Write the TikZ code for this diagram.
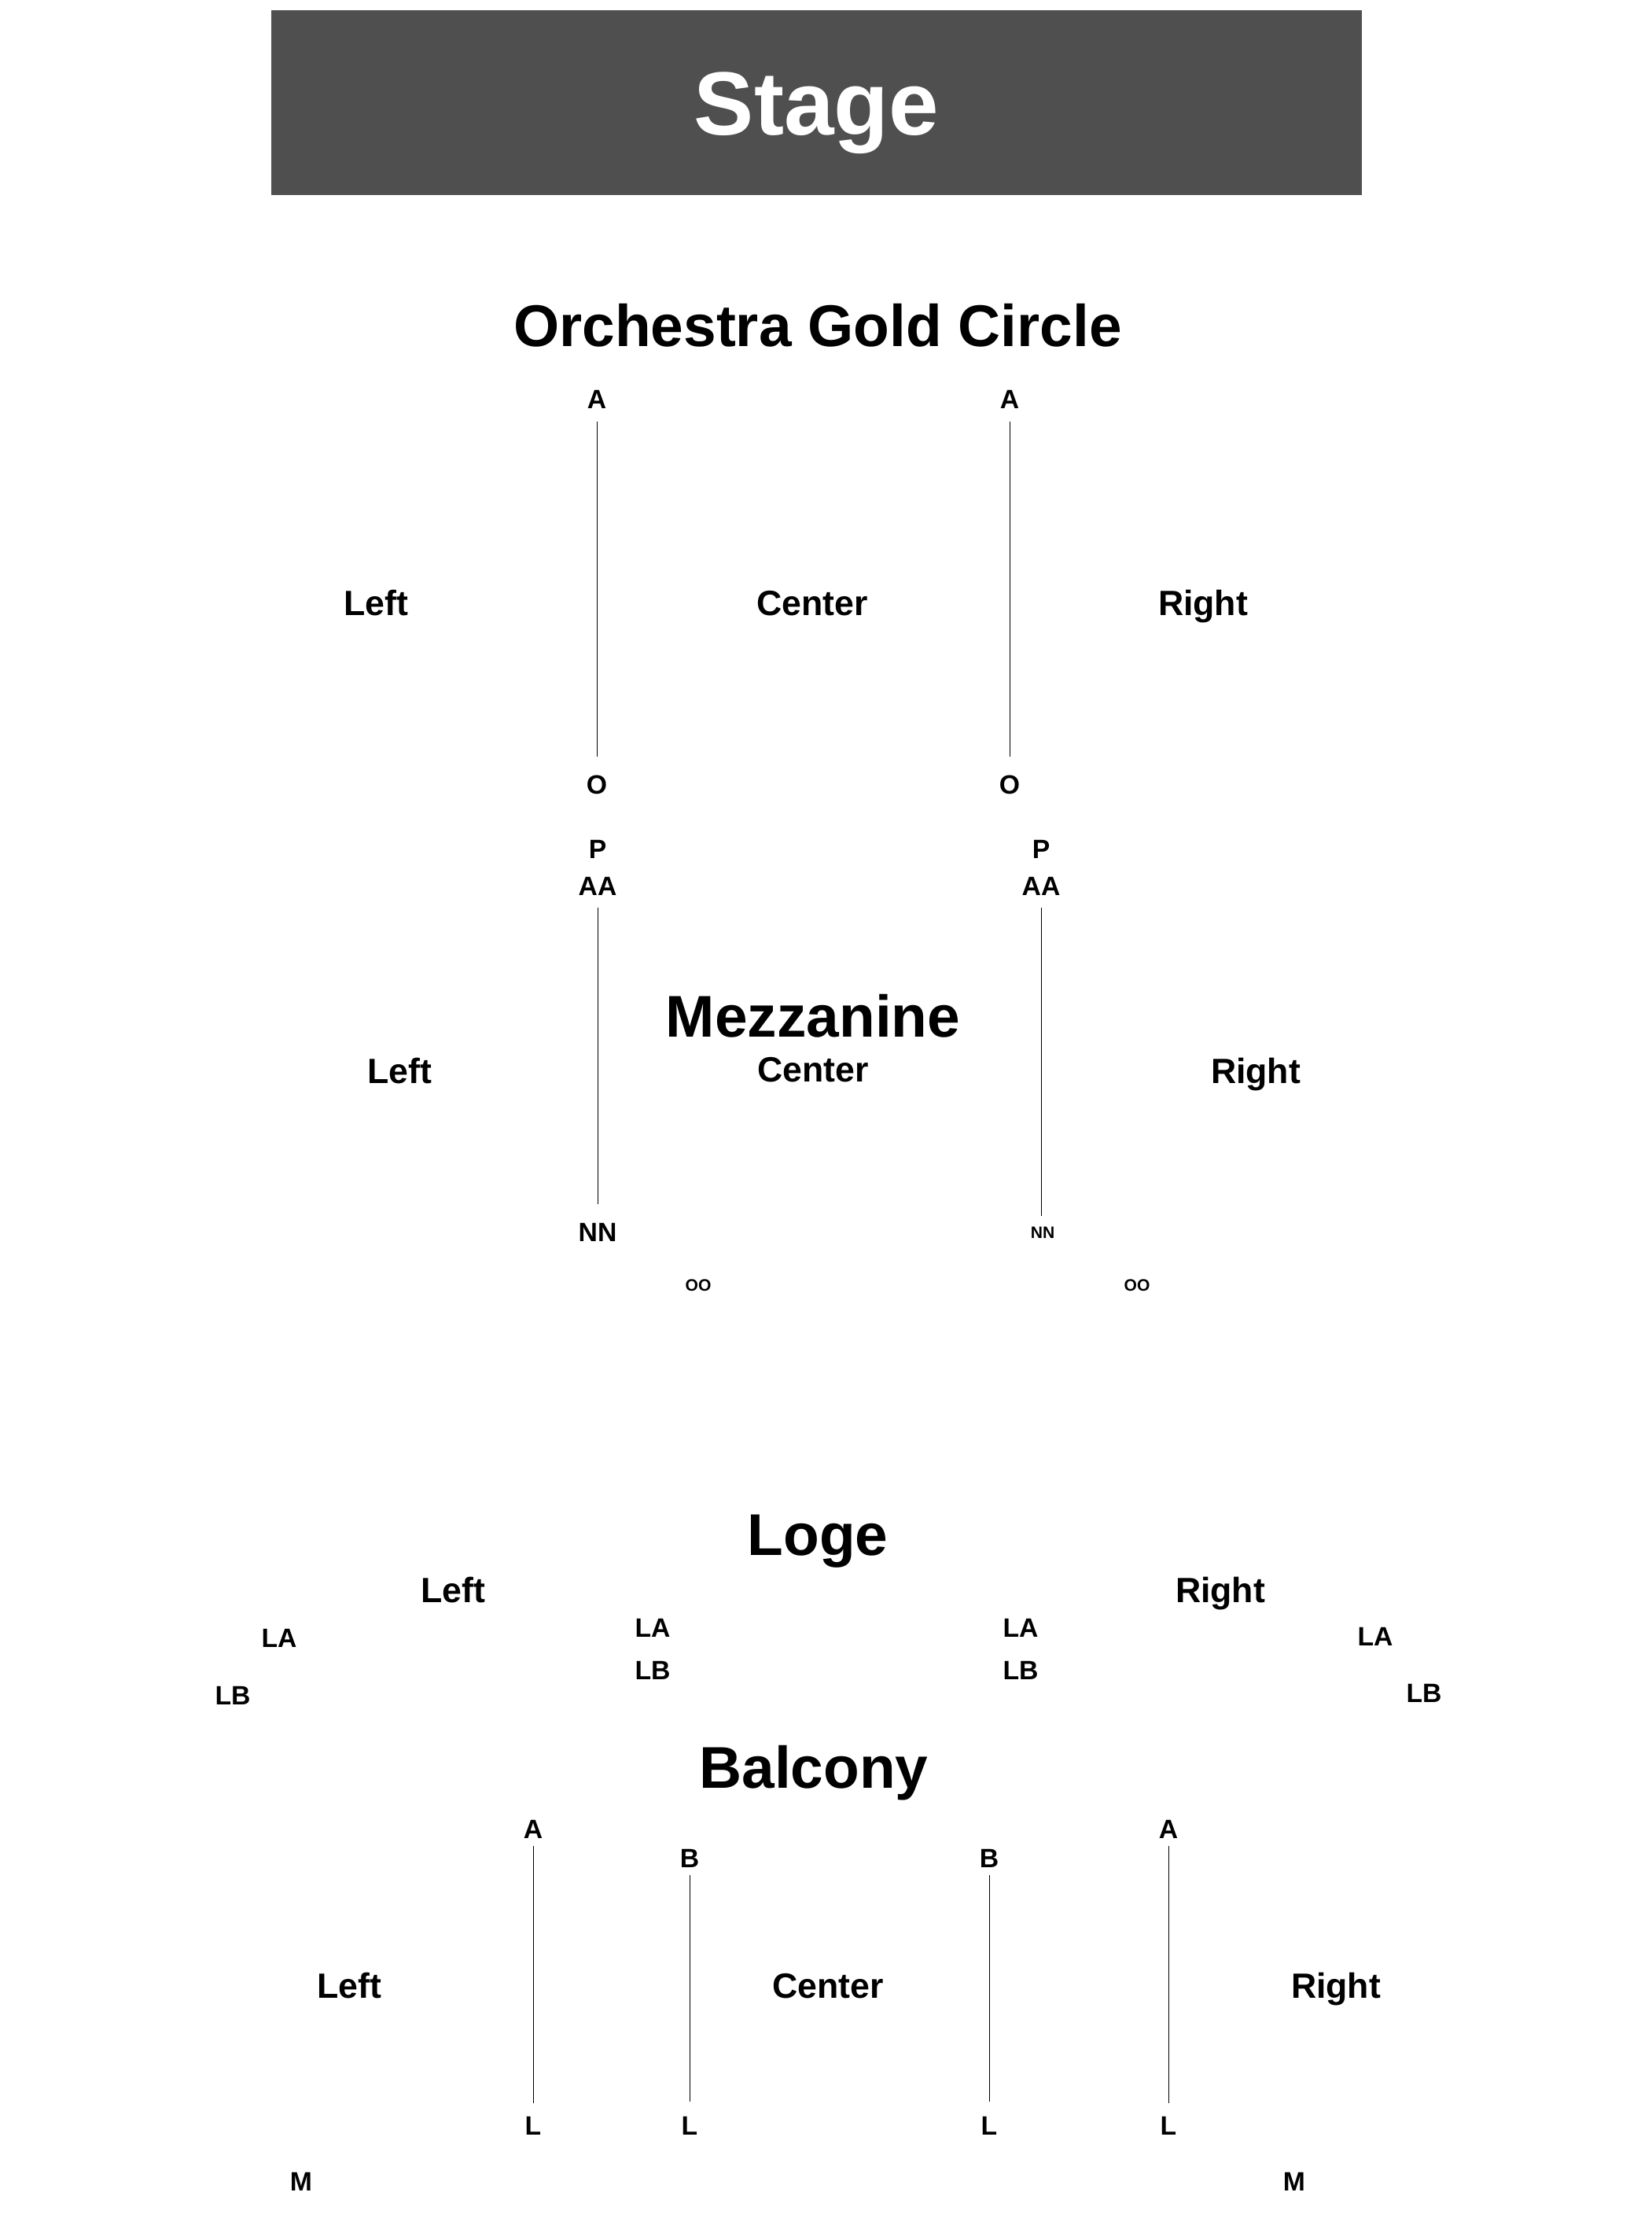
\documentclass[tikz,border=0pt]{standalone}
\usepackage{fontspec}
\setmainfont{Liberation Sans}
\definecolor{stagegray}{HTML}{4F4F4F}
\tikzset{
  seat/.style={inner sep=0pt, text depth=0pt, text height=6.9pt, font=\fontsize{9.6}{11}\selectfont\bfseries},
  tinyseat/.style={inner sep=0pt, text depth=0pt, text height=4.3pt, font=\fontsize{6}{7}\selectfont\bfseries},
  part/.style={inner sep=0pt, text depth=0pt, text height=9.1pt, font=\fontsize{12.7}{15}\selectfont\bfseries},
  level/.style={inner sep=0pt, text depth=0pt, text height=15.2pt, font=\fontsize{21.3}{25}\selectfont\bfseries},
  aisle/.style={line width=0.28pt},
}
\begin{document}
\begin{tikzpicture}
\useasboundingbox (0,0) rectangle (21,-28.2);

\node[fill=stagegray, text=white, minimum width=13.87cm, minimum height=2.35cm, inner sep=0pt,
      text depth=0pt, text height=23.3pt, font=\fontsize{32.5}{38}\selectfont\bfseries] (stage) at (10.385,-1.305) {Stage};

\node[level] (orch) at (10.40,-4.14) {Orchestra Gold Circle};
\node[seat] (oglA) at (7.59,-5.07) {A};
\node[seat] (ograA) at (12.84,-5.07) {A};
\node[seat] (oglO) at (7.59,-9.97) {O};
\node[seat] (ograO) at (12.84,-9.97) {O};
\draw[aisle, shorten <=1.65mm, shorten >=2.25mm] (oglA) -- (oglO);
\draw[aisle, shorten <=1.65mm, shorten >=2.25mm] (ograA) -- (ograO);
\node[part] (orchL) at (4.78,-7.66) {Left};
\node[part] (orchC) at (10.33,-7.66) {Center};
\node[part] (orchR) at (15.30,-7.66) {Right};

\node[level] (mezz) at (10.34,-12.92) {Mezzanine};
\node[seat] (mzlP) at (7.60,-10.79) {P};
\node[seat] (mzlAA) at (7.60,-11.26) {AA};
\node[seat] (mzlNN) at (7.60,-15.66) {NN};
\node[seat] (mzrP) at (13.24,-10.79) {P};
\node[seat] (mzrAA) at (13.24,-11.26) {AA};
\node[tinyseat] (mzrNN) at (13.26,-15.67) {NN};
\draw[aisle, shorten <=1.55mm, shorten >=2.25mm] (mzlAA) -- (mzlNN);
\draw[aisle, shorten <=1.55mm, shorten >=1.3mm] (mzrAA) -- (mzrAA |- mzrNN.north);
\node[tinyseat] (mzlOO) at (8.88,-16.34) {OO};
\node[tinyseat] (mzrOO) at (14.46,-16.34) {OO};
\node[part] (mezzL) at (5.08,-13.61) {Left};
\node[part] (mezzC) at (10.34,-13.59) {Center};
\node[part] (mezzR) at (15.97,-13.61) {Right};

\node[level] (loge) at (10.40,-19.51) {Loge};
\node[part] (logeL) at (5.76,-20.21) {Left};
\node[part] (logeR) at (15.52,-20.21) {Right};
\node[seat] (lglLA) at (3.55,-20.82) {LA};
\node[seat] (lglLB) at (2.96,-21.55) {LB};
\node[seat] (lgcLA) at (8.30,-20.69) {LA};
\node[seat] (lgcLB) at (8.30,-21.23) {LB};
\node[seat] (lgdLA) at (12.98,-20.69) {LA};
\node[seat] (lgdLB) at (12.98,-21.23) {LB};
\node[seat] (lgrLA) at (17.49,-20.80) {LA};
\node[seat] (lgrLB) at (18.11,-21.52) {LB};

\node[level] (balc) at (10.35,-22.47) {Balcony};
\node[seat] (bllA) at (6.78,-23.25) {A};
\node[seat] (blcB) at (8.77,-23.62) {B};
\node[seat] (brcB) at (12.58,-23.62) {B};
\node[seat] (brrA) at (14.86,-23.25) {A};
\node[seat] (bllL) at (6.78,-27.02) {L};
\node[seat] (blcL) at (8.77,-27.02) {L};
\node[seat] (brcL) at (12.58,-27.02) {L};
\node[seat] (brrL) at (14.86,-27.02) {L};
\draw[aisle, shorten <=0.95mm, shorten >=1.55mm] (bllA) -- (bllL);
\draw[aisle, shorten <=0.95mm, shorten >=1.75mm] (blcB) -- (blcL);
\draw[aisle, shorten <=0.95mm, shorten >=1.75mm] (brcB) -- (brcL);
\draw[aisle, shorten <=0.95mm, shorten >=1.55mm] (brrA) -- (brrL);
\node[part] (balcL) at (4.44,-25.24) {Left};
\node[part] (balcC) at (10.53,-25.24) {Center};
\node[part] (balcR) at (16.99,-25.24) {Right};
\node[seat] (bllM) at (3.83,-27.73) {M};
\node[seat] (brrM) at (16.46,-27.73) {M};
\end{tikzpicture}
\end{document}
